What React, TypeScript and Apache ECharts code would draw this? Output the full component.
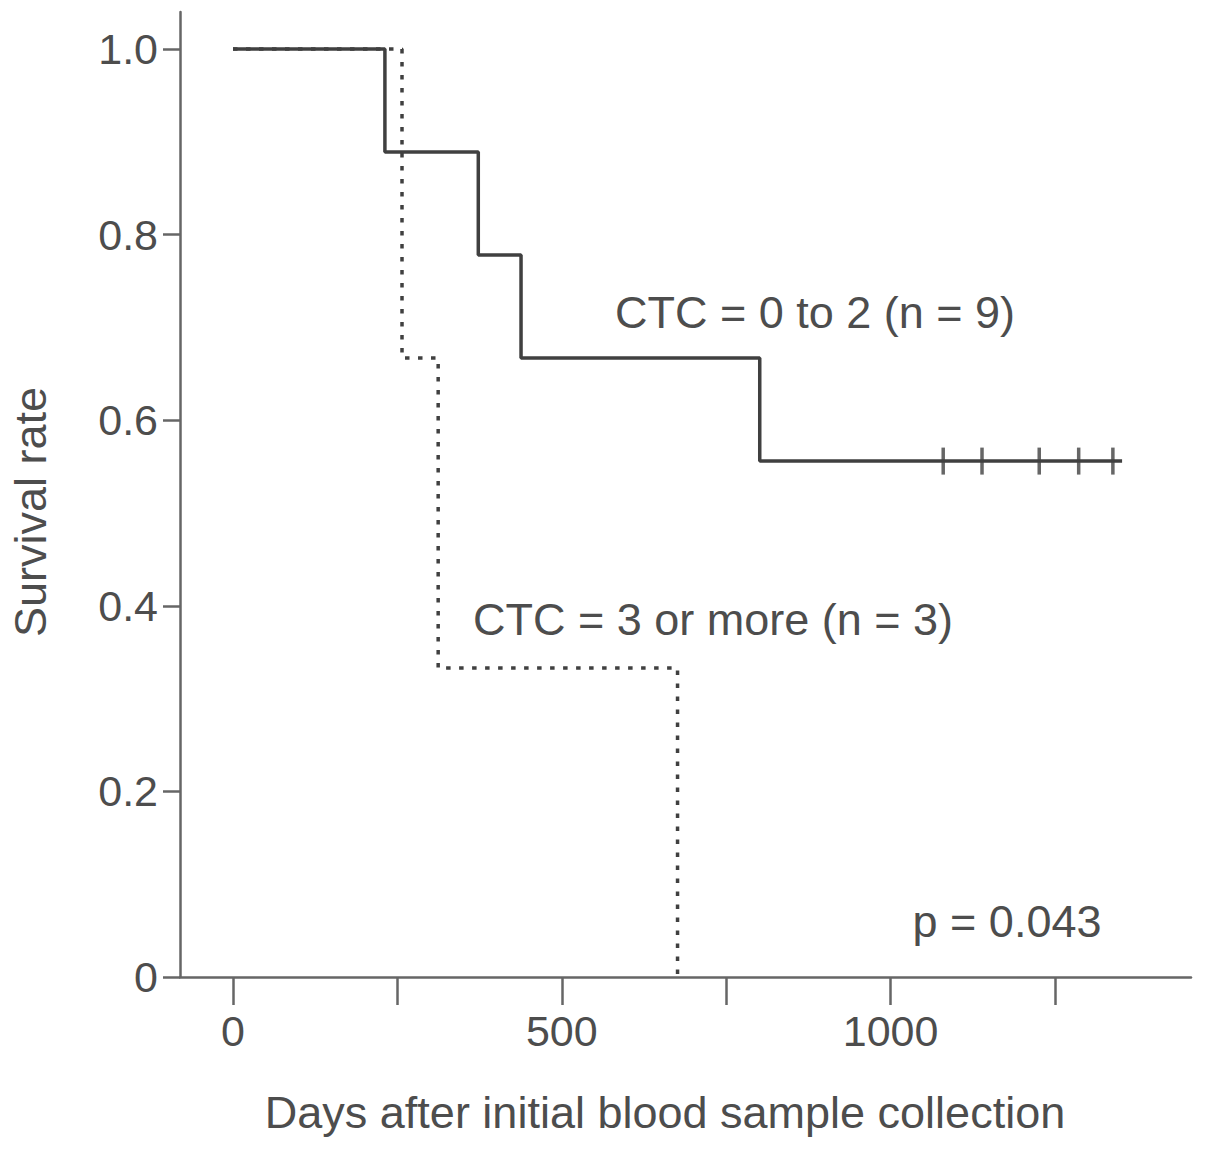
import React, { useEffect, useRef } from "react";
import * as echarts from "echarts";

// Kaplan-Meier step points (day, survival) — step changes at each listed day
const lowCtcSteps: [number, number][] = [
  [0, 1.0],
  [231, 0.889],
  [373, 0.778],
  [438, 0.667],
  [801, 0.556],
  [1352, 0.556],
];
const lowCtcCensored: [number, number][] = [
  [1080, 0.556],
  [1139, 0.556],
  [1226, 0.556],
  [1286, 0.556],
  [1338, 0.556],
];
const highCtcSteps: [number, number][] = [
  [0, 1.0],
  [257, 0.667],
  [312, 0.333],
  [676, 0.0],
];
const xTickValues = [0, 250, 500, 750, 1000, 1250];
const xLabelValues = [0, 500, 1000];
const yTickValues = [0, 0.2, 0.4, 0.6, 0.8, 1.0];

const labelLow = "CTC = 0 to 2 (n = 9)";
const labelHigh = "CTC = 3 or more (n = 3)";
const pValueText = "p = 0.043";
const xAxisTitle = "Days after initial blood sample collection";
const yAxisTitle = "Survival rate";

const FONT = "Liberation Sans, Arial, Helvetica, sans-serif";
const LINE = "#404040";
const AXIS = "#666666";
const TEXT = "#4d4d4d";

export default function App() {
  const ref = useRef<HTMLDivElement>(null);
  useEffect(() => {
    if (!ref.current) return;
    const chart = echarts.init(ref.current, null, { renderer: "svg" });
    chart.setOption({
      animation: false,
      backgroundColor: "#ffffff",
      grid: { left: 180, right: 14, top: 12, bottom: 173, containLabel: false },
      xAxis: {
        type: "value",
        min: -80.6,
        max: 1456.8,
        splitLine: { show: false },
        axisLine: { show: true, onZero: false, lineStyle: { color: AXIS, width: 2.5 } },
        axisTick: {
          show: true,
          length: 28,
          customValues: xTickValues,
          lineStyle: { color: AXIS, width: 2.5 },
        },
        axisLabel: {
          show: true,
          customValues: xLabelValues,
          margin: 32,
          fontSize: 43,
          color: TEXT,
          fontFamily: FONT,
          formatter: (v: number) => String(v),
        },
      },
      yAxis: {
        type: "value",
        min: 0,
        max: 1.04,
        splitLine: { show: false },
        axisLine: { show: true, onZero: false, lineStyle: { color: AXIS, width: 2.5 } },
        axisTick: {
          show: true,
          length: 17,
          customValues: yTickValues,
          lineStyle: { color: AXIS, width: 2.5 },
        },
        axisLabel: {
          show: true,
          customValues: yTickValues,
          margin: 22,
          fontSize: 43,
          color: TEXT,
          fontFamily: FONT,
          formatter: (v: number) => (v === 0 ? "0" : v.toFixed(1)),
        },
      },
      series: [
        {
          name: "CTC >= 3",
          type: "line",
          step: "end",
          data: highCtcSteps,
          symbol: "none",
          lineStyle: { color: LINE, width: 3.5, type: [4.5, 8.5], cap: "butt" },
          z: 2,
        },
        {
          name: "CTC 0-2",
          type: "line",
          step: "end",
          data: lowCtcSteps,
          symbol: "none",
          lineStyle: { color: LINE, width: 3.5 },
          z: 3,
        },
        {
          name: "Censored",
          type: "scatter",
          data: lowCtcCensored,
          symbol: "rect",
          symbolSize: [3.5, 27],
          itemStyle: { color: LINE },
          z: 4,
        },
      ],
      graphic: [
        {
          type: "text",
          x: 815,
          y: 312,
          style: { text: labelLow, font: `45px ${FONT}`, fill: TEXT, textAlign: "center", textVerticalAlign: "middle" },
        },
        {
          type: "text",
          x: 713,
          y: 619,
          style: { text: labelHigh, font: `45px ${FONT}`, fill: TEXT, textAlign: "center", textVerticalAlign: "middle" },
        },
        {
          type: "text",
          x: 1007,
          y: 921,
          style: { text: pValueText, font: `45px ${FONT}`, fill: TEXT, textAlign: "center", textVerticalAlign: "middle" },
        },
        {
          type: "text",
          x: 665,
          y: 1112,
          style: { text: xAxisTitle, font: `45px ${FONT}`, fill: TEXT, textAlign: "center", textVerticalAlign: "middle" },
        },
        {
          type: "text",
          x: 30,
          y: 512,
          rotation: Math.PI / 2,
          style: { text: yAxisTitle, font: `45px ${FONT}`, fill: TEXT, textAlign: "center", textVerticalAlign: "middle" },
        },
      ],
    });
    return () => chart.dispose();
  }, []);
  return (
    <div
      ref={ref}
      style={{ position: "absolute", left: 0, top: 0, width: 1205, height: 1150 }}
    />
  );
}
